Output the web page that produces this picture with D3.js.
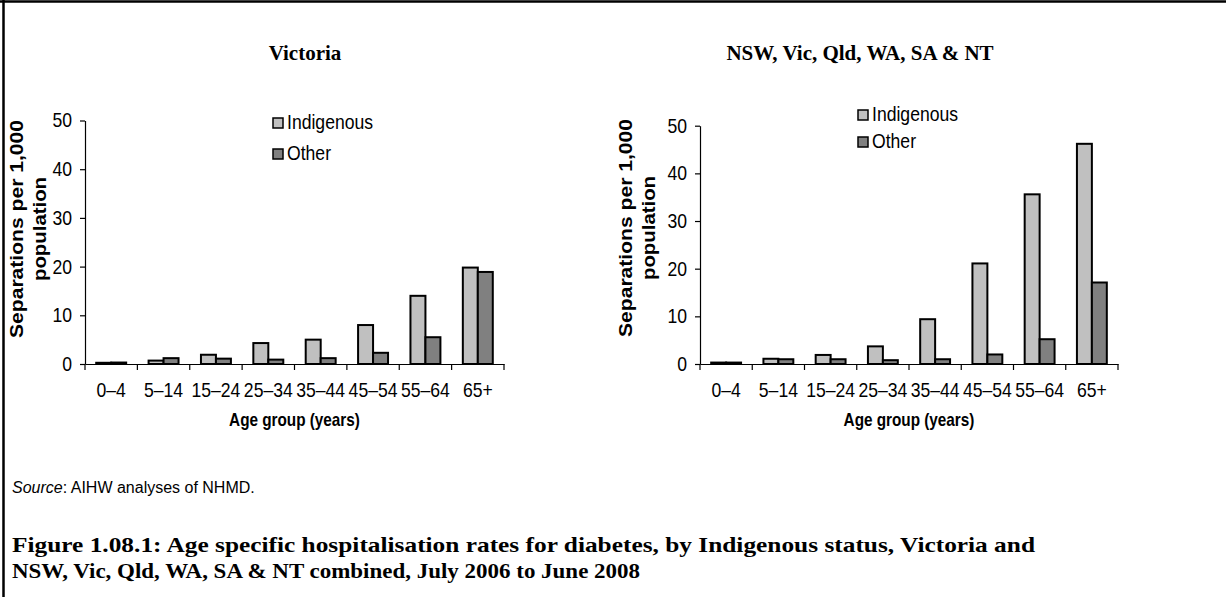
<!DOCTYPE html>
<html>
<head>
<meta charset="utf-8">
<script src="https://cdn.jsdelivr.net/npm/d3@7"></script>
<style>
  body { margin: 0; background: #fff; }
  svg text { fill: #000; }
  .sans { font-family: "Liberation Sans", Arial, sans-serif; }
  .serif { font-family: "Book Antiqua", "Palatino Linotype", "Liberation Serif", serif; font-weight: bold; }
</style>
</head>
<body>
<div id="chart"></div>
<script>
// page size
var svgWidth = 1226;
var svgHeight = 597;

// data
var ageGroups = ["0–4", "5–14", "15–24", "25–34", "35–44", "45–54", "55–64", "65+"];
var seriesNames = ["Indigenous", "Other"];
var vicIndigenous = [0.25, 0.7, 1.9, 4.3, 5.0, 8.0, 14.0, 19.8];
var vicOther = [0.3, 1.2, 1.1, 0.9, 1.2, 2.3, 5.5, 18.9];
var allIndigenous = [0.3, 1.1, 1.9, 3.7, 9.4, 21.1, 35.6, 46.2];
var allOther = [0.3, 1.0, 1.0, 0.8, 1.0, 2.0, 5.2, 17.1];
var yTicks = [0, 10, 20, 30, 40, 50];

var colors = { "Indigenous": "#c0c0c0", "Other": "#808080" };
var fontSize = 20;
var squeezeX = 0.88;   // the chart text is a bit narrow

var svg = d3.select("#chart")
  .append("svg")
  .attr("width", svgWidth)
  .attr("height", svgHeight);

// narrow a text horizontally around its anchor
function squeeze(sel, sx) {
  sel.each(function() {
    var t = d3.select(this);
    var xv = +t.attr("x") || 0;
    t.attr("transform", `translate(${xv * (1 - sx)},0) scale(${sx},1)`);
  });
}

// frame (top and left edges only)
svg.append("line").attr("x1", 0).attr("x2", svgWidth).attr("y1", 1.5).attr("y2", 1.5)
  .attr("stroke", "#000").attr("stroke-width", 2.5);
svg.append("line").attr("x1", 3.5).attr("x2", 3.5).attr("y1", 0).attr("y2", svgHeight)
  .attr("stroke", "#000").attr("stroke-width", 2.5);

// panel settings
var panels = [
  { title: "Victoria", titleX: 305,
    left: 85, right: 504, top: 120.5, bottom: 364,
    indigenous: vicIndigenous, other: vicOther,
    yTitleX: 23, yTitleY: 229, legendX: 273, legendY: [118, 149] },
  { title: "NSW, Vic, Qld, WA, SA & NT", titleX: 860,
    left: 700, right: 1118, top: 125.7, bottom: 364,
    indigenous: allIndigenous, other: allOther,
    yTitleX: 632, yTitleY: 228, legendX: 858, legendY: [110, 137] }
];

panels.forEach(drawPanel);

function drawPanel(p) {
  var g = svg.append("g");

  // title
  g.append("text")
    .attr("class", "serif")
    .attr("x", p.titleX)
    .attr("y", 59.5)
    .attr("text-anchor", "middle")
    .attr("font-size", 21)
    .text(p.title);

  var x0 = d3.scaleBand().domain(ageGroups).range([p.left, p.right]).padding(0);
  var bw = x0.bandwidth();
  var x1 = d3.scaleBand().domain(seriesNames).range([bw * 0.214, bw * 0.786]).padding(0);
  var y = d3.scaleLinear().domain([0, 50]).range([p.bottom, p.top]);

  var rows = ageGroups.map((a, i) => ({ age: a, Indigenous: p.indigenous[i], Other: p.other[i] }));

  // bars
  var groups = g.selectAll("g.grp")
    .data(rows)
    .enter()
    .append("g")
    .attr("class", "grp")
    .attr("transform", d => `translate(${x0(d.age)},0)`);

  groups.selectAll("rect")
    .data(d => seriesNames.map(s => ({ s: s, v: d[s] })))
    .enter()
    .append("rect")
    .attr("x", d => x1(d.s))
    .attr("width", x1.bandwidth())
    .attr("y", d => y(d.v))
    .attr("height", d => y(0) - y(d.v))
    .attr("fill", d => colors[d.s])
    .attr("stroke", "#000")
    .attr("stroke-width", 2);

  // y axis
  var yAxis = g.append("g")
    .attr("transform", `translate(${p.left},0)`)
    .call(d3.axisLeft(y).tickValues(yTicks).tickSize(5).tickSizeOuter(0).tickPadding(8));
  yAxis.selectAll("text").attr("font-size", fontSize).attr("font-family", "Liberation Sans, Arial, sans-serif")
    .call(squeeze, squeezeX);
  yAxis.selectAll("line,path").attr("stroke", "#000").attr("stroke-width", 1.2);

  // x axis (labels)
  var xAxis = g.append("g")
    .attr("transform", `translate(0,${p.bottom})`)
    .call(d3.axisBottom(x0).tickSize(0).tickSizeOuter(0).tickPadding(19));
  xAxis.selectAll("text").attr("font-size", fontSize).attr("font-family", "Liberation Sans, Arial, sans-serif")
    .call(squeeze, squeezeX);
  xAxis.select("path").attr("stroke", "#000").attr("stroke-width", 1.2);

  // tick marks between categories
  var bounds = ageGroups.map(a => x0(a)).concat([x0.range()[1]]);
  xAxis.selectAll("line.bound")
    .data(bounds)
    .enter()
    .append("line")
    .attr("class", "bound")
    .attr("x1", d => d).attr("x2", d => d)
    .attr("y1", 0).attr("y2", 6)
    .attr("stroke", "#000").attr("stroke-width", 1.2);

  // x axis title
  g.append("text")
    .attr("class", "sans")
    .attr("x", (p.left + p.right) / 2)
    .attr("y", 426)
    .attr("text-anchor", "middle")
    .attr("font-size", 18)
    .attr("font-weight", "bold")
    .text("Age group (years)")
    .call(squeeze, 0.85);

  // y axis title, two lines
  var yt = g.append("text")
    .attr("class", "sans")
    .attr("transform", `translate(${p.yTitleX},${p.yTitleY}) scale(${squeezeX},1) rotate(-90)`)
    .attr("text-anchor", "middle")
    .attr("font-size", fontSize)
    .attr("font-weight", "bold");
  yt.append("tspan").attr("x", 0).attr("y", 0)
    .attr("textLength", 218).attr("lengthAdjust", "spacingAndGlyphs")
    .text("Separations per 1,000");
  yt.append("tspan").attr("x", 0).attr("y", 26)
    .attr("textLength", 104).attr("lengthAdjust", "spacingAndGlyphs")
    .text("population");

  // legend
  seriesNames.forEach((s, i) => {
    g.append("rect")
      .attr("x", p.legendX)
      .attr("y", p.legendY[i])
      .attr("width", 10)
      .attr("height", 10)
      .attr("fill", colors[s])
      .attr("stroke", "#000")
      .attr("stroke-width", 1.5);
    g.append("text")
      .attr("class", "sans")
      .attr("x", p.legendX + 14)
      .attr("y", p.legendY[i] + 11.5)
      .attr("font-size", fontSize)
      .text(s)
      .call(squeeze, squeezeX);
  });
}

// source note
var src = svg.append("text")
  .attr("class", "sans")
  .attr("x", 12)
  .attr("y", 493)
  .attr("font-size", 16);
src.append("tspan").attr("font-style", "italic").text("Source");
src.append("tspan").text(": AIHW analyses of NHMD.");

// figure caption
svg.append("text")
  .attr("class", "serif")
  .attr("x", 12)
  .attr("y", 552)
  .attr("font-size", 21)
  .attr("textLength", 1023)
  .attr("lengthAdjust", "spacingAndGlyphs")
  .text("Figure 1.08.1: Age specific hospitalisation rates for diabetes, by Indigenous status, Victoria and");
svg.append("text")
  .attr("class", "serif")
  .attr("x", 12)
  .attr("y", 578)
  .attr("font-size", 21)
  .attr("textLength", 628)
  .attr("lengthAdjust", "spacingAndGlyphs")
  .text("NSW, Vic, Qld, WA, SA & NT combined, July 2006 to June 2008");
</script>
</body>
</html>
